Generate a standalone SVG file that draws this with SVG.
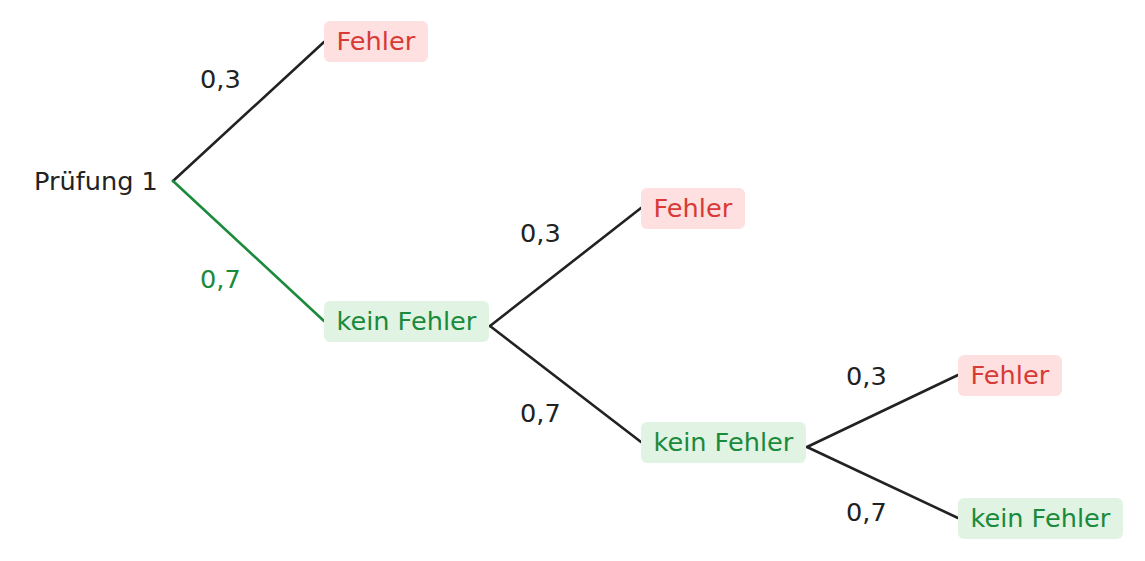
<svg xmlns="http://www.w3.org/2000/svg" width="1145" height="561" viewBox="0 0 1145 561">
<style>
text{font-family:"DejaVu Sans","Liberation Sans",sans-serif;font-size:25.6px}
.bad rect{fill:#fde0df}
.bad text{fill:#d83a36}
.good rect{fill:#e1f3e3}
.good text{fill:#1a8a3c}
.lab{fill:#222222}
.glab{fill:#1a8a3c}
#connectors line{stroke:#222222;stroke-width:2.6;stroke-linecap:round}
#connectors line.g{stroke:#1a8a3c}
</style>
<rect width="1145" height="561" fill="#ffffff"/>
<g id="connectors">
<line x1="173" y1="181" x2="324" y2="42"/>
<line class="g" x1="173" y1="181" x2="324" y2="321"/>
<line x1="490" y1="326" x2="641" y2="208"/>
<line x1="490" y1="326" x2="641" y2="442"/>
<line x1="807" y1="447" x2="958" y2="375"/>
<line x1="807" y1="447" x2="958" y2="518"/>
</g>
<g id="labels">
<text class="lab" x="200" y="88">0,3</text>
<text class="glab" x="200" y="288">0,7</text>
<text class="lab" x="520" y="242">0,3</text>
<text class="lab" x="520" y="422">0,7</text>
<text class="lab" x="846" y="385">0,3</text>
<text class="lab" x="846" y="521">0,7</text>
</g>
<g id="root"><text class="lab" x="34" y="190">Prüfung 1</text></g>
<g id="n1" class="bad"><rect x="324" y="21" width="104" height="41" rx="6"/><text x="336.5" y="50">Fehler</text></g>
<g id="n2" class="good"><rect x="324" y="301" width="165" height="41" rx="6"/><text x="336.5" y="330">kein Fehler</text></g>
<g id="n3" class="bad"><rect x="641" y="188" width="104" height="41" rx="6"/><text x="653.5" y="217">Fehler</text></g>
<g id="n4" class="good"><rect x="641" y="422" width="165" height="41" rx="6"/><text x="653.5" y="451">kein Fehler</text></g>
<g id="n5" class="bad"><rect x="958" y="355" width="104" height="41" rx="6"/><text x="970.5" y="384">Fehler</text></g>
<g id="n6" class="good"><rect x="958" y="498" width="165" height="41" rx="6"/><text x="970.5" y="527">kein Fehler</text></g>
</svg>
